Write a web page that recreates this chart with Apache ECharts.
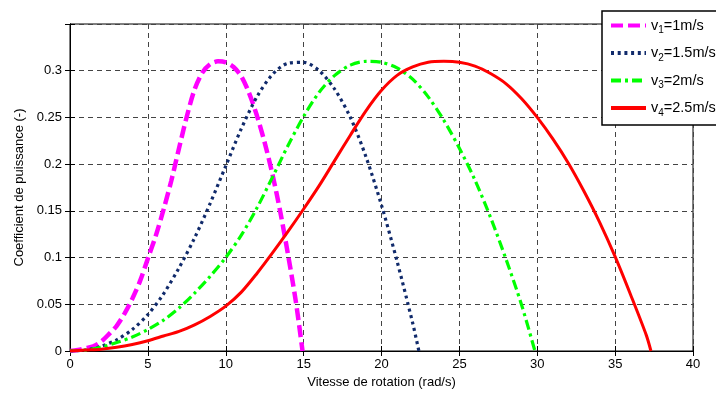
<!DOCTYPE html>
<html>
<head>
<meta charset="utf-8">
<script src="https://cdn.jsdelivr.net/npm/echarts@6/dist/echarts.min.js"></script>
<style>
html,body{margin:0;padding:0;background:#fff;}
#chart{width:716px;height:394px;}
</style>
</head>
<body>
<div id="chart"></div>
<script>
// Data: [rotation speed (rad/s), power coefficient]
const xTicks = [0, 5, 10, 15, 20, 25, 30, 35, 40];
const yTicks = [0, 0.05, 0.1, 0.15, 0.2, 0.25, 0.3];
const seriesNames = ['v1', 'v2', 'v3', 'v4'];
const legendSub = ['1', '2', '3', '4'];
const legendRest = ['=1m/s', '=1.5m/s', '=2m/s', '=2.5m/s'];

const v1 = [[0,0],[0.5,0.001],[1,0.003],[1.5,0.005],[2,0.010],[2.5,0.018],[3,0.027],[3.5,0.040],[4,0.056],[4.5,0.075],[5,0.099],[5.5,0.123],[6,0.151],[6.5,0.182],[7,0.217],[7.5,0.251],[8,0.280],[8.5,0.298],[9,0.307],[9.5,0.310],[10,0.309],[10.5,0.304],[11,0.294],[11.5,0.276],[12,0.252],[12.5,0.223],[13,0.189],[13.5,0.149],[14,0.103],[14.5,0.053],[14.93,0]];
const v2 = [[0,0],[1,0.001],[2,0.005],[3,0.012],[4,0.023],[5,0.039],[6,0.061],[7,0.089],[8,0.121],[9,0.158],[10,0.198],[11,0.238],[12,0.272],[13,0.296],[14,0.308],[15,0.309],[16,0.300],[17,0.280],[18,0.250],[19,0.208],[20,0.156],[21,0.096],[22,0.030],[22.4,0]];
const v3 = [[0,0],[1,0.001],[2,0.004],[3,0.009],[4,0.015],[5,0.023],[6,0.033],[7,0.046],[8,0.062],[9,0.080],[10,0.100],[11,0.124],[12,0.153],[13,0.186],[14,0.220],[15,0.251],[16,0.277],[17,0.295],[18,0.306],[19,0.310],[20,0.309],[21,0.303],[22,0.291],[23,0.272],[24,0.247],[25,0.217],[26,0.183],[27,0.143],[28,0.098],[29,0.049],[29.85,0]];
const v4 = [[0,0],[1,0.001],[2,0.002],[3,0.004],[4,0.007],[5,0.011],[6,0.016],[7,0.021],[8,0.028],[9,0.037],[10,0.048],[11,0.063],[12,0.083],[13,0.105],[14,0.128],[15,0.152],[16,0.177],[17,0.204],[18,0.231],[19,0.257],[20,0.279],[21,0.295],[22,0.304],[23,0.309],[24,0.310],[25,0.309],[26,0.305],[27,0.297],[28,0.286],[29,0.270],[30,0.250],[31,0.227],[32,0.201],[33,0.171],[34,0.138],[35,0.101],[36,0.060],[37,0.017],[37.3,0]];

const FONT = 'Liberation Sans, Arial, sans-serif';
const chart = echarts.init(document.getElementById('chart'), null, {renderer: 'canvas'});

const styles = [
  {color: '#ff00ff', width: 4.5, type: [12, 5]},
  {color: '#102a6b', width: 3.2, type: [3, 3.7]},
  {color: '#00ff00', width: 3.2, type: [10, 4, 3, 4]},
  {color: '#ff0000', width: 3, type: 'solid'}
];
const datasets = [v1, v2, v3, v4];

const yLabel = v => {
  if (v > 0.32) return '';
  const i = yTicks.findIndex(t => Math.abs(t - v) < 1e-6);
  return i >= 0 ? String(yTicks[i]) : '';
};

chart.setOption({
  animation: false,
  backgroundColor: '#fff',
  textStyle: {fontFamily: FONT},
  grid: {left: 70, right: 23, top: 24, bottom: 40, show: true, borderColor: '#000', borderWidth: 1, containLabel: false},
  legend: {
    orient: 'vertical',
    left: 602, top: 11,
    padding: [7, 60, 7, 7],
    itemWidth: 35, itemHeight: 14, itemGap: 10,
    backgroundColor: '#fff', borderColor: '#000', borderWidth: 1.5,
    data: seriesNames,
    itemStyle: {opacity: 0},
    lineStyle: {width: 4},
    formatter: name => {
      const i = seriesNames.indexOf(name);
      return '{a|v}{s|' + legendSub[i] + '}{a|' + legendRest[i] + '}';
    },
    textStyle: {
      fontFamily: FONT, color: '#000', fontSize: 14.5,
      rich: {
        a: {fontFamily: FONT, fontSize: 14.5, color: '#000'},
        s: {fontFamily: FONT, fontSize: 10, color: '#000', padding: [10, 0, 0, 0]}
      }
    }
  },
  xAxis: [{
    type: 'value', min: 0, max: 40, interval: 5,
    name: 'Vitesse de rotation (rad/s)', nameLocation: 'middle', nameGap: 25,
    nameTextStyle: {fontFamily: FONT, fontSize: 13, color: '#000'},
    axisLine: {show: true, lineStyle: {color: '#000', width: 1}},
    axisTick: {show: true, inside: true, length: 5, lineStyle: {color: '#000'}},
    axisLabel: {fontFamily: FONT, fontSize: 13, color: '#000', margin: 7,
      formatter: v => (xTicks.indexOf(v) >= 0 ? String(v) : '')},
    splitLine: {show: true, lineStyle: {color: '#444', type: [5, 4], width: 1}}
  }, {
    type: 'value', min: 0, max: 40, interval: 5, position: 'top',
    axisLine: {show: true, lineStyle: {color: '#000'}},
    axisTick: {show: true, inside: true, length: 5, lineStyle: {color: '#000'}},
    axisLabel: {show: false}, splitLine: {show: false}
  }],
  yAxis: [{
    type: 'value', min: 0, max: 0.35, interval: 0.05,
    name: 'Coefficient de puissance (-)', nameLocation: 'middle', nameGap: 37,
    nameTextStyle: {fontFamily: FONT, fontSize: 13, color: '#000'},
    axisLine: {show: true, lineStyle: {color: '#000', width: 1}},
    axisTick: {show: true, inside: true, length: 5, lineStyle: {color: '#000'}},
    axisLabel: {fontFamily: FONT, fontSize: 13, color: '#000', margin: 8, formatter: yLabel},
    splitLine: {show: true, lineStyle: {color: '#444', type: [5, 4], width: 1}}
  }, {
    type: 'value', min: 0, max: 0.35, interval: 0.05, position: 'right',
    axisLine: {show: true, lineStyle: {color: '#000'}},
    axisTick: {show: true, inside: true, length: 5, lineStyle: {color: '#000'}},
    axisLabel: {show: false}, splitLine: {show: false}
  }],
  series: seriesNames.map((n, i) => ({
    name: n, type: 'line', data: datasets[i],
    xAxisIndex: 0, yAxisIndex: 0,
    showSymbol: false, symbol: 'none',
    smooth: 0.3,
    lineStyle: {color: styles[i].color, width: styles[i].width, type: styles[i].type, cap: 'butt'},
    itemStyle: {color: styles[i].color},
    z: 2 + i
  }))
});
</script>
</body>
</html>
